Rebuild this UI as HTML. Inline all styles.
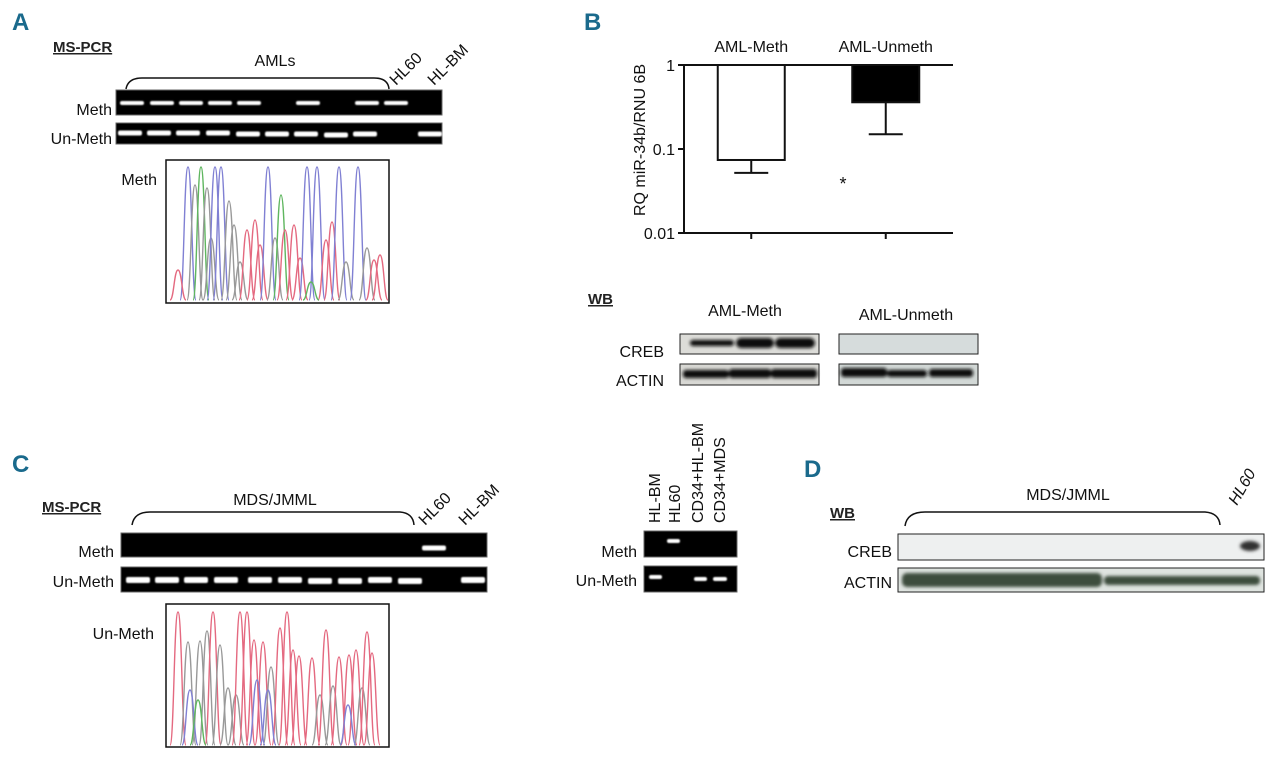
<!DOCTYPE html>
<html><head><meta charset="utf-8"><style>
html,body{margin:0;padding:0;background:#fff;}
svg{display:block;font-family:"Liberation Sans Narrow","Liberation Sans",sans-serif;}
.pl{font-family:"Liberation Sans",sans-serif;font-weight:bold;fill:#1a6a8c;font-size:24px;}
.hd{font-family:"Liberation Sans Narrow","Liberation Sans",sans-serif;font-weight:bold;font-size:15px;fill:#222;text-decoration:underline;}
.t{font-size:16px;fill:#111;}
</style></head><body>
<svg id="fig" width="1280" height="761" viewBox="0 0 1280 761">
<defs><filter id="bl"><feGaussianBlur stdDeviation="0.8"/></filter><filter id="bl2"><feGaussianBlur stdDeviation="1.5"/></filter></defs>

<!-- Panel A -->
<g>
<text class="pl" x="12" y="30">A</text>
<text class="hd" x="53" y="52">MS-PCR</text>
<text class="t" x="275" y="66" text-anchor="middle">AMLs</text>
<path d="M126,89 Q128,78 142,78 L374,78 Q388,78 389,89" fill="none" stroke="#111" stroke-width="1.5"/>
<text class="t" x="396" y="86" transform="rotate(-45 396 86)">HL60</text>
<text class="t" x="434" y="86" transform="rotate(-45 434 86)">HL-BM</text>
<text class="t" x="112" y="115" text-anchor="end">Meth</text>
<text class="t" x="112" y="144" text-anchor="end">Un-Meth</text>
<rect x="116" y="90" width="326" height="25" fill="#000" stroke="#666"/>
<rect x="116" y="123" width="326" height="21" fill="#000" stroke="#666"/>
<g id="bandsA" filter="url(#bl)"></g>
<text class="t" x="157" y="185" text-anchor="end">Meth</text>
<rect x="166" y="160" width="223" height="143" fill="#fff" stroke="#111" stroke-width="1.5"/>
<g id="chromA" opacity="0.85"></g>
</g>

<!-- Panel B chart -->
<g>
<text class="pl" x="584" y="30">B</text>
<g id="chartB"></g>
<text class="hd" x="588" y="304">WB</text>
<text class="t" x="745" y="316" text-anchor="middle">AML-Meth</text>
<text class="t" x="906" y="320" text-anchor="middle">AML-Unmeth</text>
<text class="t" x="664" y="357" text-anchor="end">CREB</text>
<text class="t" x="664" y="386" text-anchor="end">ACTIN</text>
<rect x="680" y="334" width="139" height="20" fill="#dcdcd8" stroke="#222"/>
<rect x="839" y="334" width="139" height="20" fill="#d6dcdc" stroke="#222"/>
<rect x="680" y="364" width="139" height="21" fill="#d8d8d4" stroke="#222"/>
<rect x="839" y="364" width="139" height="21" fill="#d2d8d6" stroke="#222"/>
<g filter="url(#bl2)" fill="#111">
<rect x="690" y="340" width="44" height="6" rx="3"/><rect x="736" y="338" width="38" height="10" rx="5"/><rect x="775" y="338" width="40" height="10" rx="5"/>
<rect x="683" y="370" width="46" height="8" rx="3"/><rect x="729" y="369" width="42" height="9" rx="3"/><rect x="771" y="369" width="46" height="9" rx="3"/>
<rect x="841" y="368" width="46" height="9" rx="3"/><rect x="887" y="370" width="40" height="7" rx="3"/><rect x="929" y="369" width="44" height="8" rx="3"/>
</g>
</g>

<!-- Panel C -->
<g>
<text class="pl" x="12" y="472">C</text>
<text class="hd" x="42" y="512">MS-PCR</text>
<text class="t" x="275" y="505" text-anchor="middle">MDS/JMML</text>
<path d="M132,525 Q134,512 150,512 L400,512 Q413,513 414,525" fill="none" stroke="#111" stroke-width="1.5"/>
<text class="t" x="425" y="526" transform="rotate(-45 425 526)">HL60</text>
<text class="t" x="465" y="526" transform="rotate(-45 465 526)">HL-BM</text>
<text class="t" x="114" y="557" text-anchor="end">Meth</text>
<text class="t" x="114" y="587" text-anchor="end">Un-Meth</text>
<rect x="121" y="533" width="366" height="24" fill="#000" stroke="#666"/>
<rect x="121" y="567" width="366" height="25" fill="#000" stroke="#666"/>
<g id="bandsC" filter="url(#bl)"></g>
<text class="t" x="154" y="639" text-anchor="end">Un-Meth</text>
<rect x="166" y="604" width="223" height="143" fill="#fff" stroke="#111" stroke-width="1.5"/>
<g id="chromC" opacity="0.85"></g>

<g>
<text class="t" x="660" y="523" transform="rotate(-90 660 523)">HL-BM</text>
<text class="t" x="680" y="523" transform="rotate(-90 680 523)">HL60</text>
<text class="t" x="703" y="523" transform="rotate(-90 703 523)">CD34+HL-BM</text>
<text class="t" x="725" y="523" transform="rotate(-90 725 523)">CD34+MDS</text>
<text class="t" x="637" y="557" text-anchor="end">Meth</text>
<text class="t" x="637" y="586" text-anchor="end">Un-Meth</text>
<rect x="644" y="531" width="93" height="26" fill="#000" stroke="#666"/>
<rect x="644" y="566" width="93" height="26" fill="#000" stroke="#666"/>
<g filter="url(#bl)" fill="#fff"><rect x="667" y="539" width="13" height="4" rx="2"/><rect x="649" y="575" width="13" height="4" rx="2"/><rect x="694" y="577" width="13" height="4" rx="2"/><rect x="713" y="577" width="14" height="4" rx="2"/></g>
</g>
</g>

<!-- Panel D -->
<g>
<text class="pl" x="804" y="477">D</text>
<text class="hd" x="830" y="518">WB</text>
<text class="t" x="1068" y="500" text-anchor="middle">MDS/JMML</text>
<path d="M905,526 Q907,512 925,512 L1205,512 Q1219,513 1220,525" fill="none" stroke="#111" stroke-width="1.5"/>
<text class="t" x="1237" y="506" transform="rotate(-60 1237 506)" font-style="italic">HL60</text>
<text class="t" x="892" y="557" text-anchor="end">CREB</text>
<text class="t" x="892" y="588" text-anchor="end">ACTIN</text>
<rect x="898" y="534" width="366" height="26" fill="#eef0f0" stroke="#222"/>
<rect x="898" y="568" width="366" height="24" fill="#dfe4e0" stroke="#222"/>
<g filter="url(#bl2)">
<ellipse cx="1250" cy="546" rx="10" ry="5" fill="#333"/>
<rect x="902" y="573" width="200" height="14" rx="5" fill="#3e4e3e"/>
<rect x="1104" y="576" width="156" height="9" rx="4" fill="#3e4e3e"/>
</g>
</g>
</svg>
<script>
// ---- Chart B data ----
const categories = ["AML-Meth", "AML-Unmeth"];
const means = [0.074, 0.36];
const errLow = [0.052, 0.15];
const yTickValues = [1, 0.1, 0.01];
const yTickLabels = ["1", "0.1", "0.01"];

const NS = "http://www.w3.org/2000/svg";
function mk(tag, attrs, parent){const e=document.createElementNS(NS,tag);for(const k in attrs)e.setAttribute(k,attrs[k]);parent.appendChild(e);return e;}
const g = document.getElementById('chartB');
const X0 = 684, X1 = 953, YT = 65, YB = 233;
function yScale(v){return YT + (YB-YT) * (Math.log10(1) - Math.log10(v)) / (Math.log10(1) - Math.log10(0.01));}
function xCenter(i){return X0 + (X1 - X0) * (0.25 + 0.5 * i);}
const barW = 67;
categories.forEach((c,i)=>{
  const cx = xCenter(i);
  const err = mk('path',{d:`M${cx},${yScale(means[i])} L${cx},${yScale(errLow[i])} M${cx-17},${yScale(errLow[i])} L${cx+17},${yScale(errLow[i])}`,stroke:'#111','stroke-width':2,fill:'none'},g);
  
  
  const b = mk('rect',{x:cx-barW/2,y:yScale(1),width:barW,height:yScale(means[i])-yScale(1),fill:i===0?'#fff':'#000',stroke:'#111','stroke-width':2},g);
  
  
  const t = mk('text',{x:cx,y:52,'text-anchor':'middle','class':'t'},g);
  t.textContent = c;
  
  
  const tk = mk('line',{x1:cx,x2:cx,y1:YB,y2:YB+6,stroke:'#111','stroke-width':2},g);
  
  
});
const ax = mk('path',{d:`M${X0},${YT} L${X0},${YB} M${X0},${YT} L${X1},${YT} M${X0},${YB} L${X1},${YB}`,stroke:'#111','stroke-width':2,fill:'none'},g);


yTickValues.forEach((v,i)=>{
  const y = yScale(v);
  const l = mk('line',{x1:X0-6,x2:X0,y1:y,y2:y,stroke:'#111','stroke-width':2},g);
  
  
  const t = mk('text',{x:X0-9,y:y+6,'text-anchor':'end','class':'t'},g);
  t.textContent = yTickLabels[i];
  
  
});
const yt = mk('text',{x:645,y:140,'text-anchor':'middle','class':'t',transform:'rotate(-90 645 140)'},g);
yt.textContent = 'RQ miR-34b/RNU 6B';


const st = mk('text',{x:843,y:190,'text-anchor':'middle','font-size':'18','fill':'#111'},g);
st.textContent='*';



// ---- gel bands (decorative) ----
function bands(id, list, h){
  const p = document.getElementById(id);
  list.forEach(b=>{mk('rect',{x:b[0]-12,y:b[1]-h/2,width:24,height:h,rx:2,fill:'#fff'},p);});
}
bands('bandsA',[[132,103],[162,103],[191,103],[220,103],[249,103],[308,103],[367,103],[396,103]],4);
bands('bandsA',[[130,133],[159,133],[188,133],[218,133],[248,134],[277,134],[306,134],[336,135],[365,134],[430,134]],5);
bands('bandsC',[[434,548]],5);
bands('bandsC',[[138,580],[167,580],[196,580],[226,580],[260,580],[290,580],[320,581],[350,581],[380,580],[410,581],[473,580]],6);

// ---- chromatogram traces (decorative) ----
const colors={b:'#6b6bcc',g:'#44aa44',k:'#888',r:'#e0506a'};
function chrom(id, peaks, base){
  const p=document.getElementById(id);
  peaks.forEach(pk=>{
    const [x,top,c]=pk;
    mk('path',{d:`M${x-8},${base} C${x-4},${base} ${x-4},${top} ${x},${top} C${x+4},${top} ${x+4},${base} ${x+8},${base}`,fill:'none',stroke:colors[c],'stroke-width':1.4},p);
  });
}
chrom('chromA',[[188,167,'b'],[195,185,'k'],[201,167,'g'],[207,188,'k'],[211,238,'k'],[215,167,'b'],[221,167,'b'],[229,201,'k'],[234,225,'k'],[240,262,'k'],[247,230,'r'],[255,220,'r'],[260,245,'r'],[268,167,'b'],[275,238,'k'],[281,195,'g'],[285,230,'r'],[294,225,'r'],[300,258,'r'],[307,167,'b'],[317,167,'b'],[326,240,'r'],[332,222,'r'],[339,167,'b'],[346,262,'k'],[358,167,'b'],[367,248,'k'],[374,260,'r'],[380,255,'r'],[178,270,'r'],[311,282,'g']],300);
chrom('chromC',[[178,612,'r'],[188,642,'k'],[200,641,'k'],[207,631,'k'],[213,612,'r'],[220,645,'k'],[228,688,'k'],[236,695,'k'],[240,612,'r'],[247,612,'r'],[254,640,'r'],[263,642,'r'],[271,667,'k'],[280,628,'r'],[287,612,'r'],[293,650,'r'],[299,656,'r'],[312,658,'r'],[320,695,'k'],[326,630,'r'],[333,686,'k'],[339,657,'r'],[349,655,'r'],[356,650,'r'],[362,688,'k'],[367,632,'r'],[372,653,'r'],[190,690,'b'],[198,700,'g'],[257,680,'b'],[268,690,'b'],[348,705,'b']],745);
</script>
</body></html>
